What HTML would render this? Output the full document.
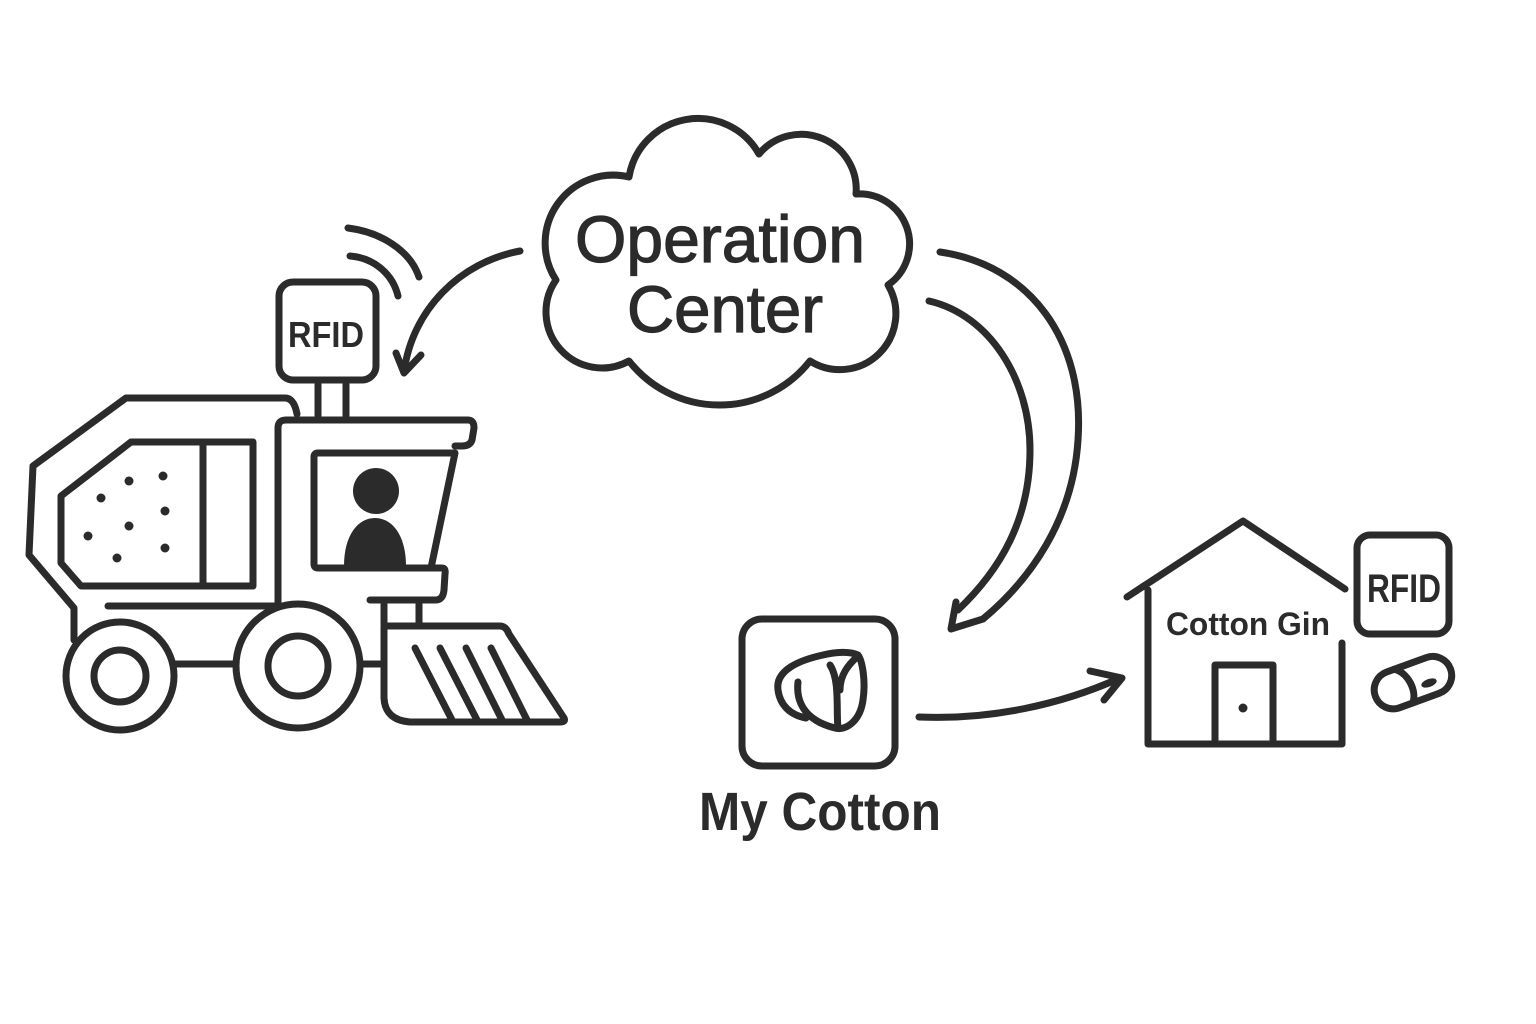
<!DOCTYPE html>
<html><head><meta charset="utf-8"><style>
html,body{margin:0;padding:0;background:#fff;}
svg{display:block;}
text{font-family:"Liberation Sans",sans-serif;fill:#2b2b2b;}
</style></head><body>
<svg width="1536" height="1024" viewBox="0 0 1536 1024" xmlns="http://www.w3.org/2000/svg">
<rect width="1536" height="1024" fill="#fff"/>
<g fill="none" stroke="#2b2b2b" stroke-width="7" stroke-linecap="round" stroke-linejoin="round">
  <!-- Cloud -->
  <path d="M556,280 A68,68 0 0 1 629,177 A70,70 0 0 1 759,154 A55,55 0 0 1 856,194 A50,50 0 0 1 888,285 A56,56 0 0 1 810,361 A115,115 0 0 1 629,361 A56,56 0 0 1 556,280 Z"/>
  <!-- left arrow -->
  <path d="M520,251 C460,262 412,310 404,372"/>
  <path d="M396,353 L404,373 L421,355"/>
  <!-- right double arrow -->
  <path d="M940,252 C1030,265 1085,340 1078,440 C1073,520 1030,580 983,619"/>
  <path d="M929,301 C990,315 1030,380 1030,450 C1030,520 1000,570 958,610"/>
  <path d="M956,602 L951,629 L983,619"/>
  <!-- signal arcs -->
  <path d="M348,228 C380,232 410,250 419,277"/>
  <path d="M350,256 C375,258 393,275 398,296"/>
  <!-- RFID tractor -->
  <rect x="279" y="282" width="97" height="98" rx="14"/>
  <line x1="318" y1="384" x2="318" y2="416"/>
  <line x1="346" y1="384" x2="346" y2="416"/>
  <!-- tractor body -->
  <path d="M297,414 Q294,398 285,398 L126,398 L33,466 L29,555 L74,608 L74,640"/>
  <path d="M131,442 L253,442 L253,586 L81,586 L61,563 L61,496 Z"/>
  <line x1="203" y1="444" x2="203" y2="584"/>
  <line x1="108" y1="606" x2="276" y2="606"/>
  <!-- cab -->
  <path d="M278,604 L278,428 Q278,420 286,420 L468,420 Q474,420 474,428 L472,440 Q470,446 462,446 L455,446"/>
  <path d="M318,453 L455,453 L431,568 L318,568 Q314,568 314,564 L314,457 Q314,453 318,453 Z"/>
  <path d="M431,568 L442,568 Q446,568 445,574 L444,590 Q443,600 436,600 L370,600"/>
  <!-- wheels -->
  <circle cx="120" cy="676" r="54"/>
  <circle cx="120" cy="676" r="26"/>
  <circle cx="298" cy="666" r="62"/>
  <circle cx="298" cy="666" r="30"/>
  <line x1="174" y1="664" x2="236" y2="664"/>
  <line x1="360" y1="664" x2="380" y2="664"/>
  <!-- plow -->
  <line x1="384" y1="604" x2="384" y2="624"/>
  <line x1="419" y1="604" x2="419" y2="624"/>
  <path d="M384,626 L500,626 Q506,626 509,634 L564,718 Q566,722 560,722 L410,722 Q385,720 384,698 Z"/>
  <line x1="415" y1="648" x2="452" y2="720"/>
  <line x1="440" y1="648" x2="477" y2="720"/>
  <line x1="466" y1="648" x2="502" y2="720"/>
  <line x1="491" y1="648" x2="527" y2="720"/>
  <!-- My Cotton box -->
  <rect x="742" y="619" width="153" height="147" rx="20"/>
  <path d="M798,682 C796,700 803,720 835,728 C845,731 860,722 863,700 C866,680 862,660 858,655 C850,651 835,652 823,655 C800,660 775,670 778,690 C780,705 790,715 806,718"/>
  <path d="M830,665 C840,680 836,710 838,728"/>
  <path d="M858,656 C848,665 840,675 840,690"/>
  <!-- arrow to gin -->
  <path d="M919,717 C990,720 1060,705 1120,678"/>
  <path d="M1090,671 L1122,678 L1104,700"/>
  <!-- house -->
  <path d="M1127,597 L1243,521 L1345,589"/>
  <path d="M1148,590 L1148,744 L1342,744 L1342,643"/>
  <path d="M1215,744 L1215,665 L1273,665 L1273,744"/>
  <!-- RFID gin -->
  <rect x="1357" y="535" width="92" height="99" rx="13"/>
  <!-- capsule -->
  <g transform="rotate(-20 1412 683)">
    <rect x="1373" y="664" width="80" height="38" rx="19"/>
    <path d="M1400,664 C1412,672 1414,692 1406,702"/>
  </g>
</g>
<g fill="#2b2b2b">
  <circle cx="101" cy="498" r="4.5"/><circle cx="129" cy="481" r="4.5"/><circle cx="163" cy="476" r="4.5"/>
  <circle cx="165" cy="511" r="4.5"/><circle cx="129" cy="526" r="4.5"/><circle cx="88" cy="536" r="4.5"/>
  <circle cx="165" cy="548" r="4.5"/><circle cx="117" cy="558" r="4.5"/>
  <circle cx="376" cy="491" r="23"/>
  <path d="M344,566 C344,535 358,518 375,518 C392,518 406,535 406,566 Z"/>
  <circle cx="1243" cy="708" r="4.5"/>
  <ellipse cx="1429" cy="683" rx="8" ry="4" transform="rotate(-20 1429 683)"/>
</g>
<g stroke="#2b2b2b" stroke-width="1.2">
<text x="575" y="262" font-size="66" textLength="290" lengthAdjust="spacingAndGlyphs">Operation</text>
<text x="627" y="332" font-size="66" textLength="196" lengthAdjust="spacingAndGlyphs">Center</text>
</g>
<text x="288" y="347" font-size="36" font-weight="bold" textLength="76" lengthAdjust="spacingAndGlyphs">RFID</text>
<text x="1367" y="602" font-size="40" font-weight="bold" textLength="74" lengthAdjust="spacingAndGlyphs">RFID</text>
<text x="1166" y="635" font-size="32" font-weight="bold" textLength="164" lengthAdjust="spacingAndGlyphs">Cotton Gin</text>
<text x="699" y="830" font-size="54" font-weight="bold" textLength="242" lengthAdjust="spacingAndGlyphs">My Cotton</text>
</svg>
</body></html>
